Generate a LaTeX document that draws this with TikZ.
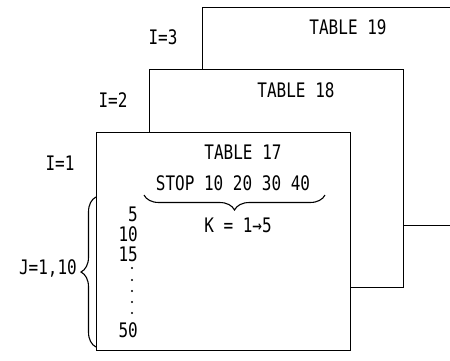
\documentclass[tikz,border=0pt]{standalone}
\usepackage{fontspec}
\setmainfont{DejaVu Sans Mono}[FakeStretch=0.8]
\usetikzlibrary{decorations.pathreplacing}
\tikzset{
  tbl/.style={draw, fill=white, line width=0.8pt, minimum width=254pt, minimum height=218pt, inner sep=0pt, outer sep=0pt},
  lbl/.style={inner sep=0pt, font=\fontsize{20}{20}\selectfont},
  bracestyle/.style={decorate, decoration={brace, amplitude=15pt}, line width=1.1pt},
  dotmark/.style={fill, circle, inner sep=0pt, minimum size=2.4pt}
}
\begin{document}
\begin{tikzpicture}[x=1pt, y=-1pt]
\useasboundingbox (0,0) rectangle (450,360);
\clip (0,0) rectangle (450,360);
% tables
\node[tbl] (t19) at (329,116) {};
\node[tbl] (t18) at (276,178) {};
\node[tbl] (t17) at (223,241) {};
% labels
\node[lbl] (i3) at (163,37) {I=3};
\node[lbl] (i2) at (113,100) {I=2};
\node[lbl] (i1) at (60,163) {I=1};
\node[lbl] (h19) at (348,27) {TABLE 19};
\node[lbl] (h18) at (296,90) {TABLE 18};
\node[lbl] (h17) at (243,152) {TABLE 17};
\node[lbl] (stop) at (233,183) {STOP 10 20 30 40};
\node[lbl] (k) at (238,225) {K = 1→5};
\node[lbl, anchor=east] (j) at (77,268) {J=1,10};
\node[lbl, anchor=east] (n5) at (138,214) {5};
\node[lbl, anchor=east] (n10) at (138,234) {10};
\node[lbl, anchor=east] (n15) at (138,254) {15};
\node[lbl, anchor=east] (n50) at (138,330) {50};
\node[dotmark] (d1) at (132,268) {};
\node[dotmark] (d2) at (132,280) {};
\node[dotmark] (d3) at (132,291) {};
\node[dotmark] (d4) at (132,302) {};
\node[dotmark] (d5) at (132,313) {};
% braces
\coordinate (kb1) at (325,195);
\coordinate (kb2) at (144,195);
\draw[bracestyle] (kb1) -- (kb2);
\coordinate (jb1) at (96,347);
\coordinate (jb2) at (96,197);
\draw[bracestyle] (jb1) -- (jb2);
\end{tikzpicture}
\end{document}
